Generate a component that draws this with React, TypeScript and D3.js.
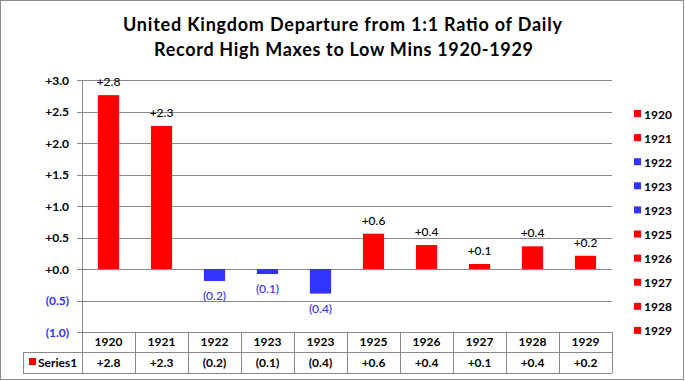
import React from "react";
import * as d3 from "d3";

const categories = ["1920", "1921", "1922", "1923", "1923", "1925", "1926", "1927", "1928", "1929"];
const values = [2.76, 2.27, -0.19, -0.08, -0.39, 0.56, 0.38, 0.08, 0.36, 0.21];
const yTicks = [3.0, 2.5, 2.0, 1.5, 1.0, 0.5, 0.0, -0.5, -1.0];
const seriesName = "Series1";

const RED = "#ff0000";
const BLUE = "#3333ff";
const GRID = "#888888";
const FONT = "Lato, 'Open Sans', sans-serif";

const fmt = (v: number) => (v < 0 ? `(${Math.abs(v).toFixed(1)})` : `+${v.toFixed(1)}`);

export default function App() {
  const W = 685, H = 381;
  const left = 82, right = 612;
  const y = d3.scaleLinear().domain([-1, 3]).range([332, 80]);
  const x = d3.scaleBand<number>().domain(d3.range(categories.length)).range([left, right]).paddingInner(0.6).paddingOuter(0.3);
  const col = d3.scaleBand<number>().domain(d3.range(categories.length)).range([left, right]);
  const tableTop = 332, rowMid = 352, tableBottom = 373;

  return (
    <svg width={W} height={H} style={{ position: "absolute", left: 0, top: 0 }} fontFamily={FONT}>
      <rect x={0.5} y={0.5} width={W - 2} height={H - 2} fill="#fff" stroke="#8c8c8c" />
      <text x={342.5} y={31} textAnchor="middle" fontSize={18} fontWeight="bold" textLength={439} lengthAdjust="spacing">United Kingdom Departure  from 1:1 Ratio of Daily</text>
      <text x={343.5} y={56} textAnchor="middle" fontSize={18} fontWeight="bold" textLength={379} lengthAdjust="spacing">Record High Maxes to Low Mins 1920-1929</text>

      {yTicks.map((t, i) => (
        <g key={i}>
          <line x1={left - 5} x2={right} y1={Math.round(y(t)) + 0.5} y2={Math.round(y(t)) + 0.5} stroke={GRID} />
          <text x={69} y={y(t) + 4.5} textAnchor="end" fontSize={12} fontWeight="bold" fill={t < 0 ? BLUE : "#000"}>
            {t < 0 ? `(${Math.abs(t).toFixed(1)})` : `+${t.toFixed(1)}`}
          </text>
        </g>
      ))}
      <line x1={left + 0.5} x2={left + 0.5} y1={80} y2={tableTop} stroke={GRID} />

      {values.map((v, i) => (
        <g key={i}>
          <rect x={x(i)} width={x.bandwidth()} y={y(Math.max(0, v))} height={Math.abs(y(v) - y(0))} fill={v >= 0 ? RED : BLUE} />
          <text x={x(i)! + x.bandwidth() / 2} y={v >= 0 ? y(v) - 9 : y(v) + 19} textAnchor="middle" fontSize={12} fontWeight={500} fill={v >= 0 ? "#000" : BLUE}>
            {fmt(v)}
          </text>
        </g>
      ))}

      {/* data table */}
      <g stroke={GRID} fill="none">
        <line x1={left} x2={right} y1={tableTop + 0.5} y2={tableTop + 0.5} />
        <line x1={23} x2={right} y1={rowMid + 0.5} y2={rowMid + 0.5} />
        <line x1={23} x2={right} y1={tableBottom + 0.5} y2={tableBottom + 0.5} />
        <line x1={23.5} x2={23.5} y1={rowMid} y2={tableBottom} />
        {d3.range(categories.length + 1).map((i) => (
          <line key={i} x1={Math.round(left + i * col.bandwidth()) + 0.5} x2={Math.round(left + i * col.bandwidth()) + 0.5} y1={tableTop} y2={tableBottom} />
        ))}
      </g>
      {categories.map((c, i) => (
        <g key={i}>
          <text x={col(i)! + col.bandwidth() / 2} y={tableTop + 14} textAnchor="middle" fontSize={12} fontWeight="bold">{c}</text>
          <text x={col(i)! + col.bandwidth() / 2} y={rowMid + 15} textAnchor="middle" fontSize={12} fontWeight="bold">{fmt(values[i])}</text>
        </g>
      ))}
      <rect x={29} y={358} width={7} height={7} fill={RED} />
      <text x={38} y={rowMid + 15} fontSize={12} fontWeight="bold">{seriesName}</text>

      {/* legend */}
      {categories.map((c, i) => (
        <g key={i}>
          <rect x={634} y={110 + i * 24.1} width={7} height={7} fill={values[i] >= 0 ? RED : BLUE} />
          <text x={644} y={118.5 + i * 24.1} fontSize={12} fontWeight="bold">{c}</text>
        </g>
      ))}
    </svg>
  );
}
